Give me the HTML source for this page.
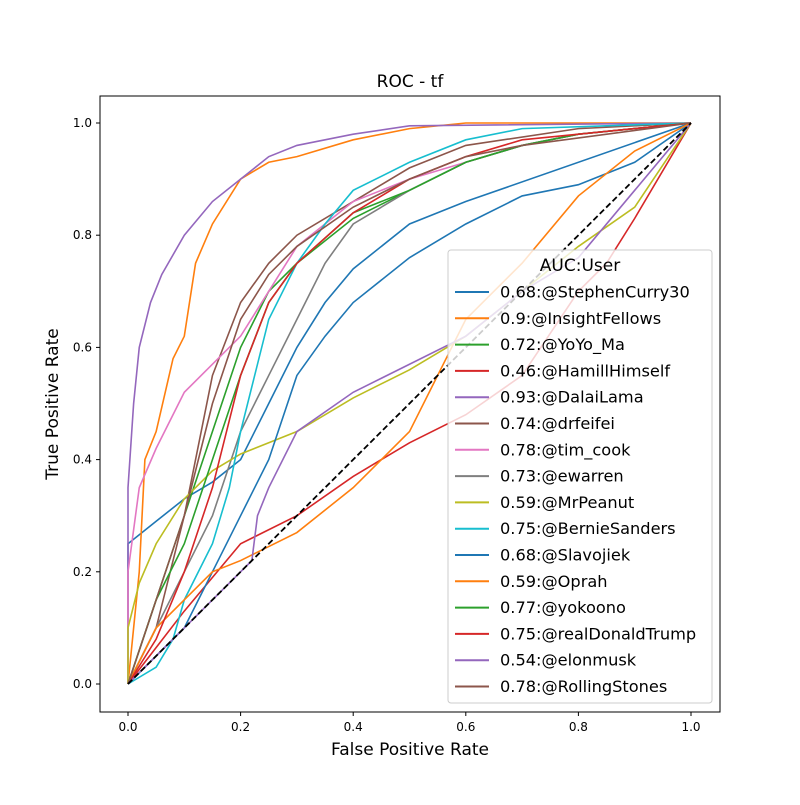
<!DOCTYPE html>
<html><head><meta charset="utf-8"><style>
body{margin:0;background:#fff}
svg text{font-family:"DejaVu Sans","Liberation Sans",sans-serif}
</style></head><body>
<svg id="chart" width="800" height="800" xmlns="http://www.w3.org/2000/svg">
<rect width="800" height="800" fill="#fff"/>
<text x="410" y="87" text-anchor="middle" font-size="17">ROC - tf</text>
<text x="410" y="755" text-anchor="middle" font-size="17">False Positive Rate</text>
<text transform="translate(58,404) rotate(-90)" text-anchor="middle" font-size="17">True Positive Rate</text>
<g id="ticks"></g>
<g id="curves"></g>
<rect x="100" y="96" width="620" height="616" fill="none" stroke="#000" stroke-width="1"/>
<g id="legend"></g>
</svg>
<script>
const tickValues=[0,0.2,0.4,0.6,0.8,1.0];
const tickLabels=["0.0","0.2","0.4","0.6","0.8","1.0"];
const users=["0.68:@StephenCurry30","0.9:@InsightFellows","0.72:@YoYo_Ma","0.46:@HamillHimself","0.93:@DalaiLama","0.74:@drfeifei","0.78:@tim_cook","0.73:@ewarren","0.59:@MrPeanut","0.75:@BernieSanders","0.68:@Slavojiek","0.59:@Oprah","0.77:@yokoono","0.75:@realDonaldTrump","0.54:@elonmusk","0.78:@RollingStones"];
const colors=["#1f77b4","#ff7f0e","#2ca02c","#d62728","#9467bd","#8c564b","#e377c2","#7f7f7f","#bcbd22","#17becf","#1f77b4","#ff7f0e","#2ca02c","#d62728","#9467bd","#8c564b"];
const fpr0=[0,0,0.05,0.1,0.15,0.2,0.25,0.3,0.35,0.4,0.5,0.6,1];
const tpr0=[0,0.25,0.29,0.33,0.36,0.4,0.5,0.6,0.68,0.74,0.82,0.86,1];
const fpr1=[0,0.02,0.03,0.05,0.08,0.1,0.12,0.15,0.2,0.25,0.3,0.4,0.5,0.6,1];
const tpr1=[0,0.2,0.4,0.45,0.58,0.62,0.75,0.82,0.9,0.93,0.94,0.97,0.99,1,1];
const fpr2=[0,0.05,0.1,0.15,0.2,0.25,0.3,0.4,0.5,0.6,0.7,0.8,1];
const tpr2=[0,0.15,0.3,0.45,0.6,0.7,0.75,0.83,0.88,0.93,0.96,0.98,1];
const fpr3=[0,0.1,0.2,0.3,0.4,0.5,0.6,0.7,0.8,0.85,0.9,1];
const tpr3=[0,0.13,0.25,0.3,0.37,0.43,0.48,0.55,0.7,0.75,0.83,1];
const fpr4=[0,0,0.01,0.02,0.04,0.06,0.1,0.15,0.2,0.25,0.3,0.4,0.5,1];
const tpr4=[0,0.35,0.5,0.6,0.68,0.73,0.8,0.86,0.9,0.94,0.96,0.98,0.995,1];
const fpr5=[0,0.05,0.1,0.15,0.2,0.25,0.3,0.4,0.5,0.6,0.8,1];
const tpr5=[0,0.1,0.3,0.55,0.68,0.75,0.8,0.86,0.92,0.96,0.99,1];
const fpr6=[0,0,0.02,0.05,0.1,0.15,0.2,0.25,0.3,0.4,0.5,0.6,0.7,0.8,1];
const tpr6=[0,0.2,0.35,0.42,0.52,0.57,0.62,0.7,0.78,0.86,0.9,0.93,0.96,0.98,1];
const fpr7=[0,0.05,0.1,0.15,0.2,0.25,0.3,0.35,0.4,0.5,0.6,0.7,0.8,1];
const tpr7=[0,0.1,0.2,0.3,0.45,0.55,0.65,0.75,0.82,0.88,0.93,0.96,0.98,1];
const fpr8=[0,0,0.02,0.05,0.1,0.15,0.2,0.3,0.4,0.5,0.6,0.7,0.8,0.9,1];
const tpr8=[0,0.1,0.18,0.25,0.33,0.38,0.41,0.45,0.51,0.56,0.62,0.7,0.78,0.85,1];
const fpr9=[0,0.05,0.08,0.1,0.15,0.18,0.2,0.25,0.3,0.35,0.4,0.5,0.6,0.7,1];
const tpr9=[0,0.03,0.08,0.15,0.25,0.35,0.45,0.65,0.75,0.82,0.88,0.93,0.97,0.99,1];
const fpr10=[0,0.05,0.1,0.15,0.2,0.25,0.3,0.35,0.4,0.5,0.6,0.7,0.8,0.9,1];
const tpr10=[0,0.05,0.1,0.2,0.3,0.4,0.55,0.62,0.68,0.76,0.82,0.87,0.89,0.93,1];
const fpr11=[0,0.05,0.1,0.15,0.2,0.3,0.4,0.5,0.55,0.6,0.7,0.8,0.9,1];
const tpr11=[0,0.1,0.15,0.2,0.22,0.27,0.35,0.45,0.55,0.65,0.75,0.87,0.95,1];
const fpr12=[0,0.05,0.1,0.15,0.2,0.25,0.3,0.4,0.5,0.6,0.7,0.8,1];
const tpr12=[0,0.15,0.25,0.4,0.55,0.68,0.75,0.84,0.88,0.93,0.96,0.98,1];
const fpr13=[0,0.05,0.1,0.15,0.2,0.25,0.3,0.4,0.5,0.6,0.7,1];
const tpr13=[0,0.08,0.2,0.35,0.55,0.68,0.75,0.84,0.9,0.94,0.97,1];
const fpr14=[0,0.1,0.2,0.22,0.23,0.25,0.3,0.4,0.5,0.6,0.7,0.8,0.9,1];
const tpr14=[0,0.1,0.2,0.22,0.3,0.35,0.45,0.52,0.57,0.62,0.7,0.76,0.88,1];
const fpr15=[0,0.05,0.1,0.15,0.2,0.25,0.3,0.4,0.5,0.6,0.7,1];
const tpr15=[0,0.15,0.3,0.5,0.65,0.73,0.78,0.85,0.9,0.94,0.96,1];
const fprs=[fpr0,fpr1,fpr2,fpr3,fpr4,fpr5,fpr6,fpr7,fpr8,fpr9,fpr10,fpr11,fpr12,fpr13,fpr14,fpr15];
const tprs=[tpr0,tpr1,tpr2,tpr3,tpr4,tpr5,tpr6,tpr7,tpr8,tpr9,tpr10,tpr11,tpr12,tpr13,tpr14,tpr15];
const NS="http://www.w3.org/2000/svg";
const X=v=>128+v*563, Y=v=>684-v*561;
const ticks=document.getElementById('ticks');
tickValues.forEach((t,i)=>{
  let l=document.createElementNS(NS,'line');
  
  
  l.setAttribute('x1',X(t));l.setAttribute('x2',X(t));l.setAttribute('y1',712);l.setAttribute('y2',716);l.setAttribute('stroke','#000');
  ticks.appendChild(l);
  let tx=document.createElementNS(NS,'text');
  
  
  tx.setAttribute('x',X(t));tx.setAttribute('y',731);tx.setAttribute('text-anchor','middle');tx.setAttribute('font-size','12');
  tx.textContent=tickLabels[i];ticks.appendChild(tx);
  let m=document.createElementNS(NS,'line');
  
  
  m.setAttribute('x1',96);m.setAttribute('x2',100);m.setAttribute('y1',Y(t));m.setAttribute('y2',Y(t));m.setAttribute('stroke','#000');
  ticks.appendChild(m);
  let ty=document.createElementNS(NS,'text');
  
  
  ty.setAttribute('x',92);ty.setAttribute('y',Y(t)+4);ty.setAttribute('text-anchor','end');ty.setAttribute('font-size','12');
  ty.textContent=tickLabels[i];ticks.appendChild(ty);
});
const curves=document.getElementById('curves');
fprs.forEach((f,i)=>{
  let p=document.createElementNS(NS,'polyline');
  
  
  p.setAttribute('points',f.map((v,j)=>X(v)+','+Y(tprs[i][j])).join(' '));
  p.setAttribute('fill','none');p.setAttribute('stroke',colors[i]);p.setAttribute('stroke-width','1.6');
  curves.appendChild(p);
});
let d=document.createElementNS(NS,'line');


d.setAttribute('x1',X(0));d.setAttribute('y1',Y(0));d.setAttribute('x2',X(1));d.setAttribute('y2',Y(1));
d.setAttribute('stroke','#000');d.setAttribute('stroke-width','1.8');d.setAttribute('stroke-dasharray','6,3');
curves.appendChild(d);
const lg=document.getElementById('legend');
let box=document.createElementNS(NS,'rect');


box.setAttribute('x',448);box.setAttribute('y',250);box.setAttribute('width',264);box.setAttribute('height',453);box.setAttribute('rx',3);
box.setAttribute('fill','#fff');box.setAttribute('fill-opacity','0.8');box.setAttribute('stroke','#ccc');
lg.appendChild(box);
let lt=document.createElementNS(NS,'text');


lt.setAttribute('x',580);lt.setAttribute('y',271);lt.setAttribute('text-anchor','middle');lt.setAttribute('font-size','17');
lt.textContent='AUC:User';lg.appendChild(lt);
users.forEach((u,i)=>{
  const y=292+i*26.3;
  let l=document.createElementNS(NS,'line');
  
  
  l.setAttribute('x1',455);l.setAttribute('x2',489);l.setAttribute('y1',y);l.setAttribute('y2',y);
  l.setAttribute('stroke',colors[i]);l.setAttribute('stroke-width','2');
  lg.appendChild(l);
  let t=document.createElementNS(NS,'text');
  
  
  t.setAttribute('x',500);t.setAttribute('y',y+5.5);t.setAttribute('font-size','16.2');
  t.textContent=u;lg.appendChild(t);
});
</script>
</body></html>
